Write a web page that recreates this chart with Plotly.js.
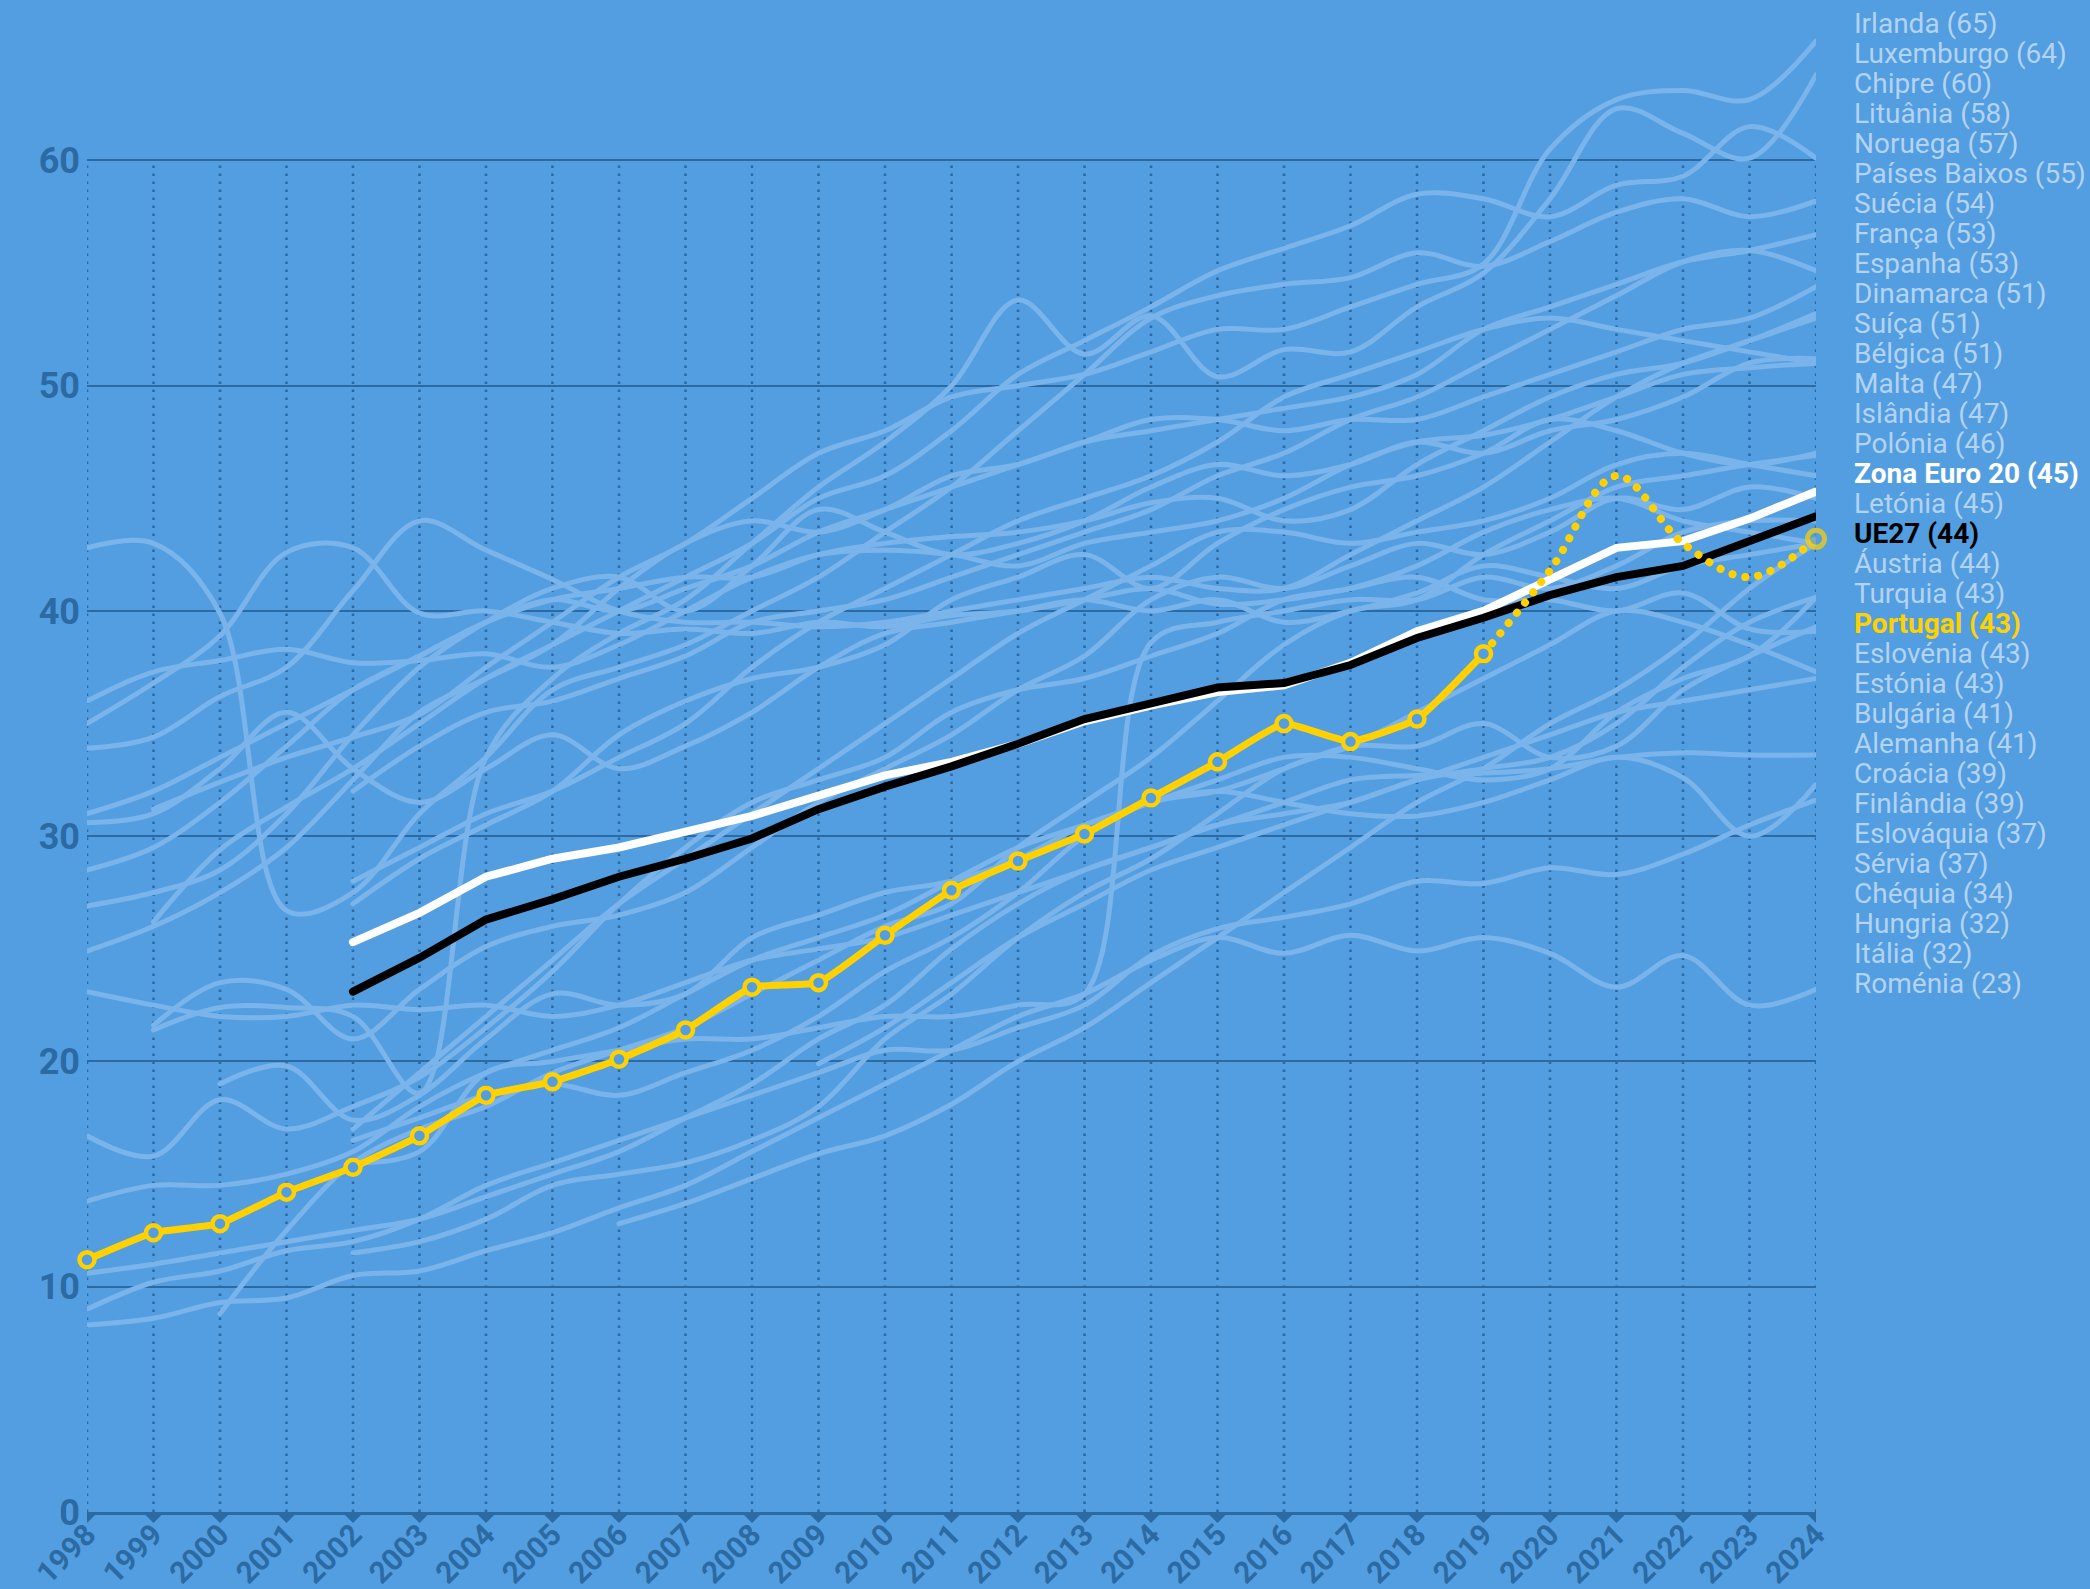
<!DOCTYPE html>
<html lang="pt">
<head>
<meta charset="utf-8">
<script src="https://cdn.plot.ly/plotly-3.0.1.min.js"></script>
<style>
  html, body { margin: 0; padding: 0; background: #539EE0; }
  #chart { width: 2090px; height: 1589px; }
  /* pontas redondas: dá pontos redondos à linha pontilhada de Portugal */
  .scatterlayer .js-line { stroke-linecap: round; }
</style>
</head>
<body>
<div id="chart"></div>
<script>
/* Ensino superior, 25-34 anos (%) — 1998-2024 */

const years = [1998, 1999, 2000, 2001, 2002, 2003, 2004, 2005, 2006, 2007, 2008, 2009, 2010,
  2011, 2012, 2013, 2014, 2015, 2016, 2017, 2018, 2019, 2020, 2021, 2022, 2023, 2024];
const yTicks = [0, 10, 20, 30, 40, 50, 60];

// países (linhas de fundo)
const irlanda = [null, 31.2, 32.4, 33.5, 34.4, 35.4, 37.5, 39.5, 41.5, 43.0, 45.0, 47.0, 48.0, 49.5, 50.0, 50.5, 51.5, 52.5, 52.5, 53.5, 54.5, 55.4, 60.5, 62.7, 63.1, 62.7, 65.3];
const luxemburgo = [null, 21.4, 22.4, 22.4, 22.0, 18.6, 33.5, 37.0, 39.0, 40.5, 43.0, 45.5, 47.5, 50.0, 53.8, 51.4, 53.1, 50.4, 51.6, 51.5, 53.5, 55.0, 58.3, 62.3, 61.2, 60.1, 63.8];
const chipre = [null, 26.2, 29.4, 31.3, 33.0, 35.0, 37.0, 38.5, 40.0, 41.5, 43.0, 45.0, 46.0, 48.0, 50.5, 52.0, 53.5, 55.1, 56.1, 57.1, 58.5, 58.3, 57.5, 58.9, 59.3, 61.5, 60.1];
const lituania = [42.8, 43.0, 39.9, 26.7, 27.5, 31.0, 33.5, 36.5, 37.5, 38.5, 40.0, 41.5, 43.5, 45.5, 48.0, 50.5, 53.0, 54.0, 54.5, 54.8, 55.9, 55.3, 56.4, 57.7, 58.3, 57.5, 58.2];
const noruega = [24.9, 26.0, 27.5, 29.5, 32.5, 35.5, 37.0, 38.5, 41.0, 43.0, 44.0, 43.5, 44.5, 46.0, 46.5, 47.5, 48.0, 48.5, 49.0, 49.5, 50.5, 52.5, 53.5, 54.5, 55.5, 56.0, 56.7];
const paisesBaixos = [null, null, null, null, 32.0, 34.0, 35.5, 36.0, 37.0, 38.0, 39.5, 40.0, 40.5, 41.5, 42.5, 43.5, 44.5, 46.0, 47.0, 48.5, 49.5, 51.0, 52.5, 54.0, 55.5, 56.0, 55.1];
const suecia = [28.5, 29.5, 31.5, 34.0, 36.5, 38.0, 39.5, 40.5, 40.0, 41.0, 42.0, 43.5, 44.5, 45.5, 46.5, 47.5, 48.5, 48.5, 48.0, 48.5, 48.5, 49.5, 50.5, 51.5, 52.5, 53.0, 54.4];
const franca = [31.0, 32.0, 33.5, 35.0, 36.5, 38.0, 39.5, 40.5, 41.0, 41.5, 41.5, 42.5, 43.0, 43.3, 43.5, 44.0, 44.8, 45.0, 44.0, 44.5, 46.5, 48.0, 49.5, 50.5, 51.0, 52.0, 53.2];
const espanha = [33.9, 34.4, 36.2, 37.5, 40.9, 44.0, 42.7, 41.4, 40.0, 39.5, 39.5, 39.3, 39.5, 40.0, 40.5, 41.0, 41.5, 41.0, 41.0, 42.5, 44.0, 45.5, 47.5, 49.5, 51.0, 52.0, 53.0];
const dinamarca = [26.9, 27.5, 28.5, 31.0, 34.5, 37.5, 39.5, 41.0, 41.5, 40.0, 42.0, 44.5, 43.5, 42.5, 43.0, 44.0, 45.5, 46.5, 46.0, 46.5, 47.5, 47.0, 48.0, 48.5, 49.5, 51.0, 51.2];
const suica = [null, null, null, null, 28.0, 29.5, 31.0, 32.0, 33.5, 35.0, 37.5, 39.5, 41.0, 42.5, 44.0, 45.0, 46.0, 47.5, 49.5, 50.5, 51.5, 52.5, 53.0, 52.5, 52.0, 51.5, 51.0];
const belgica = [36.0, 37.3, 37.8, 38.3, 37.7, 37.8, 38.1, 37.5, 38.5, 40.0, 41.5, 42.5, 42.7, 42.5, 42.0, 43.0, 43.5, 44.0, 45.0, 46.5, 47.5, 47.8, 48.5, 49.5, 50.5, 50.8, 51.0];
const malta = [null, null, 8.8, 12.5, 15.5, 17.0, 18.0, 19.5, 20.5, 21.5, 23.0, 24.5, 26.0, 27.0, 29.5, 31.5, 33.5, 36.0, 38.5, 40.0, 40.5, 42.5, 44.0, 45.5, 46.0, 46.5, 46.9];
const islandia = [null, null, null, null, 27.0, 29.0, 30.5, 32.0, 34.5, 36.0, 37.0, 37.5, 38.5, 40.5, 41.5, 42.5, 41.0, 43.0, 44.5, 45.5, 46.0, 47.0, 48.5, 48.0, 47.0, 46.5, 47.0];
const polonia = [null, null, null, null, 17.0, 19.5, 22.0, 24.5, 27.0, 29.0, 31.0, 33.0, 35.0, 37.0, 39.0, 40.5, 42.0, 43.5, 43.5, 43.0, 43.5, 44.0, 45.0, 46.5, 47.0, 46.5, 46.0];
const letonia = [null, 21.6, 23.5, 23.2, 21.0, 23.2, 25.1, 26.0, 26.5, 27.5, 29.5, 31.5, 33.0, 34.5, 36.5, 38.0, 40.5, 41.5, 41.0, 42.0, 43.0, 42.5, 43.5, 45.0, 44.5, 45.5, 45.0];
const austria = [null, null, null, null, 15.5, 16.0, 19.5, 20.0, 20.5, 21.0, 21.0, 21.5, 22.0, 22.0, 22.5, 23.0, 38.6, 39.5, 40.0, 40.5, 40.5, 41.5, 41.0, 42.0, 43.5, 44.0, 44.0];
const turquia = [null, null, null, null, null, null, null, null, 12.8, 13.7, 14.8, 15.9, 16.7, 18.1, 20.0, 21.5, 23.5, 25.5, 27.5, 29.5, 31.5, 33.0, 35.0, 36.5, 38.5, 41.0, 43.0];
const eslovenia = [16.7, 15.8, 18.3, 17.0, 18.0, 19.3, 21.5, 24.0, 27.0, 29.5, 31.5, 32.5, 33.5, 35.5, 36.5, 37.0, 38.0, 39.0, 40.5, 41.0, 42.0, 43.5, 44.5, 45.0, 44.0, 43.5, 43.0];
const estonia = [30.6, 31.0, 33.0, 35.5, 33.0, 31.5, 33.0, 34.5, 33.0, 34.0, 35.5, 37.5, 39.0, 39.5, 40.0, 40.5, 40.0, 40.5, 39.5, 40.0, 40.8, 42.0, 41.5, 41.0, 42.0, 42.5, 43.0];
const bulgaria = [null, null, 19.0, 19.8, 17.4, 18.5, 21.0, 23.0, 22.5, 23.0, 25.5, 26.5, 27.5, 28.0, 29.0, 30.5, 31.5, 32.5, 33.5, 33.5, 33.0, 32.5, 33.0, 35.5, 37.0, 38.0, 40.6];
const alemanha = [23.1, 22.5, 22.0, 22.0, 22.5, 22.3, 22.5, 22.0, 22.5, 23.5, 24.5, 25.0, 25.5, 26.5, 27.5, 28.5, 29.5, 30.5, 31.0, 31.5, 32.5, 33.0, 33.5, 35.0, 37.5, 39.5, 40.6];
const croacia = [null, null, null, null, 16.5, 17.5, 18.5, 19.0, 18.5, 19.5, 20.5, 22.0, 24.0, 25.5, 27.5, 30.0, 31.5, 32.0, 33.0, 34.0, 34.0, 35.0, 33.5, 34.0, 36.5, 38.0, 39.3];
const finlandia = [35.0, 36.8, 38.9, 42.6, 42.8, 39.9, 40.0, 39.5, 39.0, 39.2, 39.0, 39.5, 39.3, 39.8, 40.0, 40.5, 41.0, 40.3, 40.5, 41.0, 41.5, 40.5, 40.5, 40.0, 40.8, 39.2, 39.1];
const eslovaquia = [null, null, null, null, 11.5, 12.0, 13.0, 14.5, 15.0, 15.5, 16.5, 18.0, 21.0, 23.0, 25.5, 27.5, 29.0, 31.0, 33.0, 34.0, 35.5, 37.0, 38.5, 40.0, 39.5, 38.5, 37.3];
const servia = [null, null, null, null, null, null, null, null, null, null, null, 19.9, 21.5, 23.5, 25.5, 27.0, 28.5, 29.5, 30.5, 31.5, 32.5, 33.5, 34.5, 35.5, 36.0, 36.5, 37.0];
const chequia = [10.6, 11.0, 11.5, 12.0, 12.5, 13.0, 14.0, 15.0, 16.0, 17.5, 19.0, 21.0, 22.5, 25.0, 27.0, 28.5, 29.5, 30.5, 31.5, 32.5, 32.7, 32.8, 33.0, 33.5, 33.7, 33.6, 33.6];
const hungria = [13.8, 14.5, 14.5, 15.0, 16.0, 18.0, 19.5, 20.5, 21.5, 23.0, 24.5, 25.5, 26.5, 28.0, 29.5, 30.5, 31.5, 32.0, 31.5, 31.0, 30.9, 31.5, 32.5, 33.5, 32.6, 30.0, 32.3];
const italia = [9.0, 10.2, 10.7, 11.6, 12.0, 13.0, 14.5, 15.5, 16.5, 17.5, 18.5, 19.5, 20.5, 20.5, 21.5, 22.5, 24.7, 25.9, 26.4, 27.0, 28.0, 27.9, 28.6, 28.3, 29.2, 30.5, 31.6];
const romenia = [8.3, 8.6, 9.3, 9.5, 10.5, 10.7, 11.6, 12.4, 13.5, 14.5, 16.0, 17.5, 19.0, 20.5, 22.0, 23.0, 24.5, 25.5, 24.8, 25.6, 24.9, 25.5, 24.8, 23.3, 24.7, 22.5, 23.2];

// destaques
const zonaEuro20 = [null, null, null, null, 25.3, 26.6, 28.2, 29.0, 29.5, 30.2, 30.9, 31.8, 32.7, 33.3, 34.1, 35.1, 35.8, 36.4, 36.7, 37.7, 39.1, 40.0, 41.4, 42.8, 43.1, 44.1, 45.3];
const ue27 = [null, null, null, null, 23.1, 24.6, 26.3, 27.2, 28.2, 29.0, 29.9, 31.2, 32.2, 33.1, 34.1, 35.2, 35.9, 36.6, 36.8, 37.6, 38.8, 39.7, 40.7, 41.5, 42.0, 43.1, 44.2];
const portugal = [11.2, 12.4, 12.8, 14.2, 15.3, 16.7, 18.5, 19.1, 20.1, 21.4, 23.3, 23.5, 25.6, 27.6, 28.9, 30.1, 31.7, 33.3, 35.0, 34.2, 35.2, 38.1, null, null, null, null, null];
// quebra de série a partir de 2019 (pontilhado)
const portugalQuebra = [null, null, null, null, null, null, null, null, null, null, null, null, null, null, null, null, null, null, null, null, null, 38.1, 41.8, 46.0, 43.0, 41.5, 43.2];

const labelOrder = ['Irlanda', 'Luxemburgo', 'Chipre', 'Lituânia', 'Noruega', 'Países Baixos', 'Suécia',
  'França', 'Espanha', 'Dinamarca', 'Suíça', 'Bélgica', 'Malta', 'Islândia', 'Polónia', 'Zona Euro 20',
  'Letónia', 'UE27', 'Áustria', 'Turquia', 'Portugal', 'Eslovénia', 'Estónia', 'Bulgária', 'Alemanha',
  'Croácia', 'Finlândia', 'Eslováquia', 'Sérvia', 'Chéquia', 'Hungria', 'Itália', 'Roménia'];

const series = {
  'Irlanda': irlanda, 'Luxemburgo': luxemburgo, 'Chipre': chipre, 'Lituânia': lituania, 'Noruega': noruega,
  'Países Baixos': paisesBaixos, 'Suécia': suecia, 'França': franca, 'Espanha': espanha, 'Dinamarca': dinamarca,
  'Suíça': suica, 'Bélgica': belgica, 'Malta': malta, 'Islândia': islandia, 'Polónia': polonia,
  'Letónia': letonia, 'Áustria': austria, 'Turquia': turquia, 'Eslovénia': eslovenia, 'Estónia': estonia,
  'Bulgária': bulgaria, 'Alemanha': alemanha, 'Croácia': croacia, 'Finlândia': finlandia,
  'Eslováquia': eslovaquia, 'Sérvia': servia, 'Chéquia': chequia, 'Hungria': hungria, 'Itália': italia,
  'Roménia': romenia,
  'Zona Euro 20': zonaEuro20, 'UE27': ue27, 'Portugal': portugalQuebra
};

const BG = '#539EE0';
const GREY = '#7AB4EA';
const DARK = '#2C6AA3';
const YELLOW = '#FFD100';
const LABEL = '#B3D3F3';
const FONT = 'Roboto, "Noto Sans", sans-serif';

const highlight = {
  'Zona Euro 20': { color: '#FFFFFF', weight: 700 },
  'UE27': { color: '#000000', weight: 700 },
  'Portugal': { color: YELLOW, weight: 700 }
};

const greyTraces = Object.keys(series)
  .filter(name => !highlight[name])
  .map(name => ({
    x: years, y: series[name], name, type: 'scatter', mode: 'lines',
    line: { color: GREY, width: 5, shape: 'spline', smoothing: 1 },
    hoverinfo: 'skip'
  }));

const lastIdx = years.length - 1;
const traces = [
  ...greyTraces,
  { x: years, y: zonaEuro20, type: 'scatter', mode: 'lines', line: { color: '#FFFFFF', width: 8 }, hoverinfo: 'skip' },
  { x: years, y: ue27, type: 'scatter', mode: 'lines', line: { color: '#000000', width: 8 }, hoverinfo: 'skip' },
  { x: years, y: portugalQuebra, type: 'scatter', mode: 'lines+markers', cliponaxis: false,
    line: { color: YELLOW, width: 8, dash: '0.1px,13px', shape: 'spline', smoothing: 1 },
    marker: { size: portugalQuebra.map((v, i) => i === lastIdx ? 17 : 0), color: BG, line: { color: YELLOW, width: 5 } },
    hoverinfo: 'skip' },
  { x: years, y: portugal, type: 'scatter', mode: 'lines+markers', cliponaxis: false,
    line: { color: YELLOW, width: 7, shape: 'spline', smoothing: 0.4 },
    marker: { size: 15, color: BG, line: { color: YELLOW, width: 4.5 } },
    hoverinfo: 'skip' }
];

// linhas verticais pontilhadas e triângulos do eixo x
const x0 = years[0], x1 = years[lastIdx];
const shapes = [
  ...years.map(yr => ({
    type: 'line', xref: 'x', yref: 'y', x0: yr, x1: yr, y0: 0, y1: 60, layer: 'below',
    line: { color: DARK, width: 2.5, dash: '2.5px,5.5px' }
  })),
  ...years.map((yr, i) => ({
    type: 'path', xref: 'paper', yref: 'paper', xsizemode: 'pixel', ysizemode: 'pixel',
    xanchor: (yr - x0) / (x1 - x0), yanchor: 0,
    path: i === 0 ? 'M0,0 L11,0 L0,-11 Z' : i === lastIdx ? 'M-11,0 L0,0 L0,-11 Z' : 'M-11,0 L11,0 L0,-11 Z',
    fillcolor: DARK, line: { width: 0 }, layer: 'above'
  }))
];

const LABEL_TOP = 66.1;
const LABEL_STEP = 1.333;
const annotations = labelOrder.map((name, i) => {
  const vals = series[name].filter(v => v !== null);
  const h = highlight[name];
  return {
    xref: 'paper', yref: 'y', x: 1.0208, y: LABEL_TOP - i * LABEL_STEP,
    xanchor: 'left', yanchor: 'middle', showarrow: false,
    text: name + ' (' + Math.round(vals[vals.length - 1]) + ')',
    font: { family: FONT, size: 28, color: h ? h.color : LABEL, weight: h ? h.weight : 400 }
  };
});

const layout = {
  width: 2090, height: 1589,
  margin: { l: 87, r: 274, t: 14, b: 77 },
  paper_bgcolor: BG, plot_bgcolor: BG,
  showlegend: false, hovermode: false,
  font: { family: FONT, color: DARK },
  xaxis: {
    range: [x0, x1], tickvals: years, ticktext: years.map(String), tickangle: -45,
    showgrid: false, zeroline: false, showline: true, linecolor: DARK, linewidth: 3,
    ticks: '', ticklabelstandoff: -10,
    tickfont: { family: FONT, size: 30, color: DARK, weight: 700 }, fixedrange: true
  },
  yaxis: {
    range: [0, 66.5], tickvals: yTicks, ticktext: yTicks.map(String),
    showgrid: true, gridcolor: DARK, gridwidth: 2, zeroline: false, showline: false,
    ticks: '', ticklabelstandoff: 6,
    tickfont: { family: FONT, size: 36, color: DARK, weight: 700 }, fixedrange: true
  },
  shapes, annotations
};

Plotly.newPlot('chart', traces, layout, { staticPlot: true, displayModeBar: false });
</script>
</body>
</html>
